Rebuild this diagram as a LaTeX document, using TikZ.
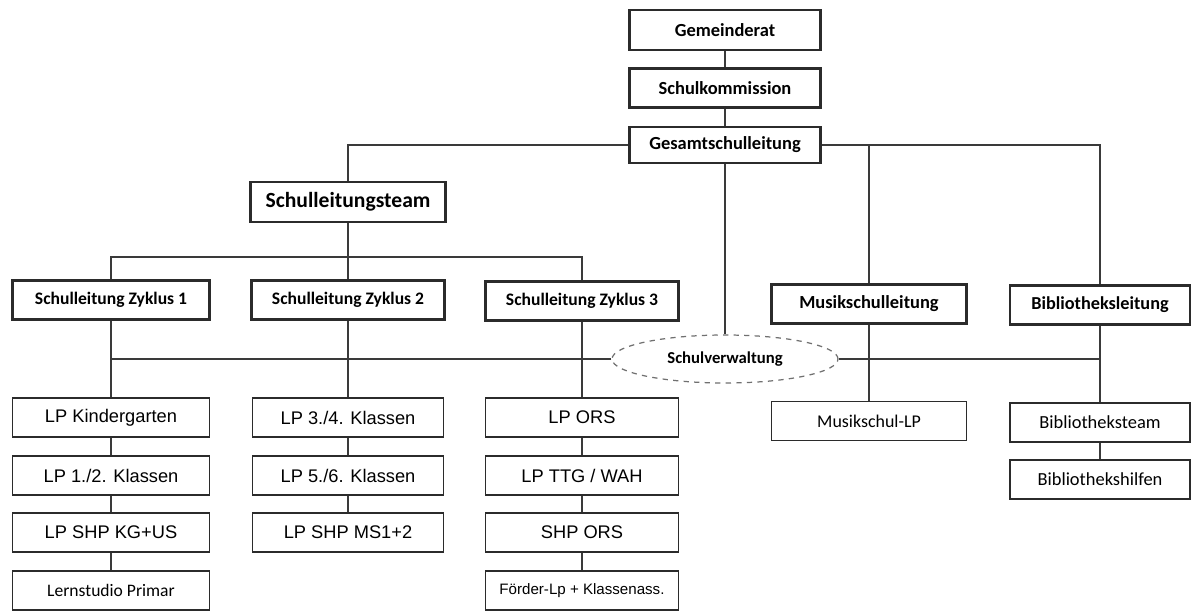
\documentclass[tikz,border=0pt]{standalone}
\usepackage{fontspec}
\setmainfont{Liberation Sans}
\newfontfamily\calfont{Carlito}
\usepackage{tikz}
\usetikzlibrary{shapes.geometric, positioning, calc}
\definecolor{boxLine}{HTML}{2B2B2B}
\definecolor{connLine}{HTML}{3A3A3A}
\definecolor{ellLine}{HTML}{707070}

\begin{document}
\begin{tikzpicture}[x=0.02cm, y=-0.02cm,
    head/.style={rectangle, draw=boxLine, line width=1.5pt, fill=white, minimum width=3.82cm,
      inner sep=1pt, align=center, font=\calfont\bfseries\fontsize{10.5}{12}\selectfont},
    lead/.style={head, minimum height=0.78cm, font=\calfont\bfseries\fontsize{10}{12}\selectfont},
    staff/.style={rectangle, draw=boxLine, line width=1pt, fill=white, minimum height=0.78cm,
      inner sep=1pt, font=\fontsize{10.4}{12}\selectfont},
    conn/.style={draw=connLine, line width=0.8pt},
    bold conn/.style={draw=connLine, line width=1.4pt}
  ]
  \useasboundingbox (0,0) rectangle (1192,611);

  % === Leitung ===
  \node[head, minimum height=0.8cm] (gr) at (725,30) {Gemeinderat};
  \node[head, minimum height=0.78cm] (sk) at (725,88) {Schulkommission};
  \node[head, minimum height=0.72cm] (gsl) at (725,145) {Gesamtschulleitung};
  \node[head, minimum width=3.9cm, minimum height=0.8cm, font=\calfont\bfseries\fontsize{12.3}{14}\selectfont] (slt) at (348,202) {Schulleitungsteam};
  \draw[bold conn] (gr) -- (sk);
  \draw[bold conn] (sk) -- (gsl);

  % === Schulleitungen ===
  \node[lead, minimum width=3.94cm] (z1) at (111,300) {Schulleitung Zyklus 1};
  \node[lead, minimum width=3.86cm] (z2) at (348,300) {Schulleitung Zyklus 2};
  \node[lead, minimum width=3.86cm] (z3) at (582,301) {Schulleitung Zyklus 3};
  \node[lead, minimum width=3.9cm, font=\calfont\bfseries\fontsize{10.5}{12}\selectfont] (msl) at (869,304) {Musikschulleitung};
  \node[lead, minimum width=3.6cm, font=\calfont\bfseries\fontsize{10.4}{12}\selectfont] (bl) at (1100,305) {Bibliotheksleitung};
  \node[ellipse, draw=ellLine, dashed, line width=0.7pt, fill=white, minimum width=4.52cm, minimum height=0.96cm,
    inner sep=0pt, font=\calfont\bfseries\fontsize{9.5}{11}\selectfont] (sv) at (725,359) {Schulverwaltung};
  \coordinate (slbus) at (348,257);

  \draw[conn] (gsl.west) -| (slt.north);
  \draw[conn] (gsl.east) -| (msl.north);
  \draw[conn] (gsl.east) -| (bl.north);
  \draw[bold conn] (gsl.south) -- (sv.north);
  \draw[conn] (slt.south) -- (z2.north);
  \draw[conn] (z1.north) |- (slbus) -| (z3.north);
  \draw[conn] (sv.west) -- (sv.west -| z1.south);
  \draw[conn] (sv.east) -- (sv.east -| bl.south);

  % === Zyklus 1 ===
  \node[staff, minimum width=3.94cm] (kg) at (111,417.5) {LP Kindergarten};
  \node[staff, minimum width=3.94cm] (k12) at (111,475.5) {LP 1./2. Klassen};
  \node[staff, minimum width=3.94cm] (shpkg) at (111,532.5) {LP SHP KG+US};
  \node[staff, minimum width=3.94cm, font=\calfont\fontsize{10}{12}\selectfont] (lern) at (111,590.5) {Lernstudio Primar};
  \draw[bold conn] (z1.south) -- (kg.north);
  \draw[bold conn] (kg) -- (k12); \draw[bold conn] (k12) -- (shpkg);
  \draw[bold conn] (shpkg) -- (lern);

  % === Zyklus 2 ===
  \node[staff, minimum width=3.82cm] (k34) at (348,417.5) {LP 3./4. Klassen};
  \node[staff, minimum width=3.82cm] (k56) at (348,475.5) {LP 5./6. Klassen};
  \node[staff, minimum width=3.82cm] (shpms) at (348,532.5) {LP SHP MS1+2};
  \draw[conn] (z2.south) -- (k34.north);
  \draw[conn] (k34) -- (k56); \draw[conn] (k56) -- (shpms);

  % === Zyklus 3 ===
  \node[staff, minimum width=3.86cm] (ors) at (582,417.5) {LP ORS};
  \node[staff, minimum width=3.86cm] (ttg) at (582,475.5) {LP TTG / WAH};
  \node[staff, minimum width=3.86cm] (shpors) at (582,532.5) {SHP ORS};
  \node[staff, minimum width=3.86cm, font=\fontsize{8.6}{10}\selectfont] (foerder) at (582,590.5) {Förder-Lp + Klassenass.};
  \draw[conn] (z3.south) -- (ors.north);
  \draw[conn] (ors) -- (ttg); \draw[conn] (ttg) -- (shpors);
  \draw[conn] (shpors) -- (foerder);

  % === Musikschule / Bibliothek ===
  \node[staff, minimum width=3.9cm, font=\calfont\fontsize{10.2}{12}\selectfont] (mlp) at (869,421) {Musikschul-LP};
  \node[staff, minimum width=3.6cm, font=\calfont\fontsize{10.5}{12}\selectfont] (bt) at (1100,422.5) {Bibliotheksteam};
  \node[staff, minimum width=3.6cm, font=\calfont\fontsize{10.5}{12}\selectfont] (bh) at (1100,479.5) {Bibliothekshilfen};
  \draw[conn] (msl.south) -- (mlp.north);
  \draw[conn] (bl.south) -- (bt.north);
  \draw[conn] (bt) -- (bh);
\end{tikzpicture}
\end{document}
